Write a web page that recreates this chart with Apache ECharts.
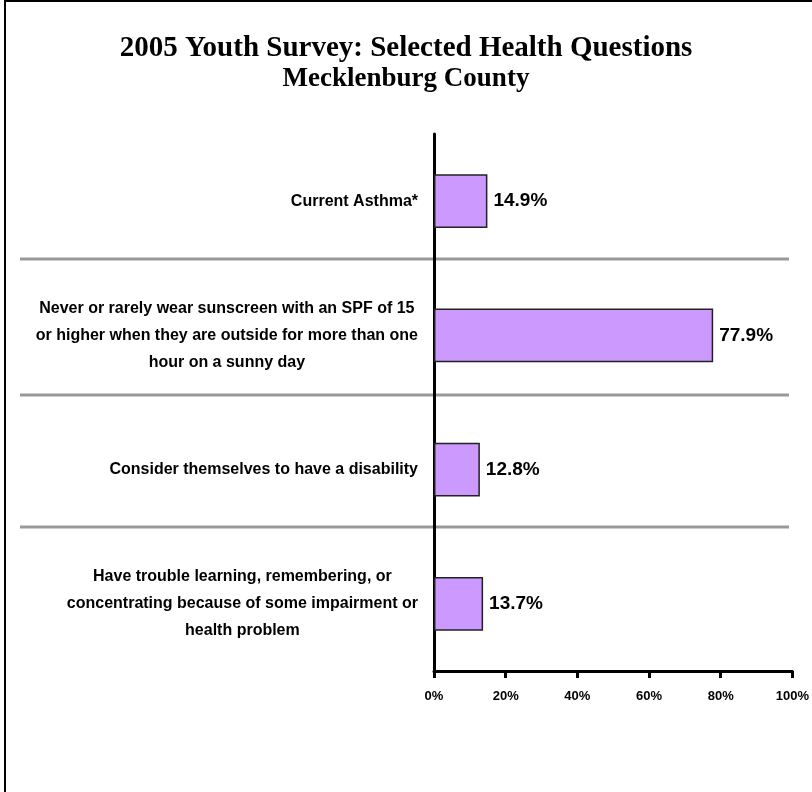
<!DOCTYPE html>
<html>
<head>
<meta charset="utf-8">
<script src="https://cdn.jsdelivr.net/npm/echarts@6/dist/echarts.min.js"></script>
<style>
  html, body { margin: 0; padding: 0; background: #fff; }
  #chart { width: 812px; height: 792px; }
</style>
</head>
<body>
<div id="chart"></div>
<script>
// Survey questions (top to bottom) and the share of youth answering yes
var categories = [
  'Current Asthma*',
  'Never or rarely wear sunscreen with an SPF of 15\nor higher when they are outside for more than one\nhour on a sunny day',
  'Consider themselves to have a disability',
  'Have trouble learning, remembering, or\nconcentrating because of some impairment or\nhealth problem'
];
var percents = [14.9, 77.9, 12.8, 13.7];
var axisTicks = [0, 20, 40, 60, 80, 100];

var titleText = '2005 Youth Survey: Selected Health Questions';
var subtitleText = 'Mecklenburg County';

var sans = '"Liberation Sans", Arial, sans-serif';
var serif = '"Liberation Serif", "Times New Roman", serif';

var chart = echarts.init(document.getElementById('chart'), null, { renderer: 'canvas' });

// horizontal rules separating the questions
function rule(y) {
  return {
    type: 'line',
    shape: { x1: 20, y1: y, x2: 789, y2: y },
    style: { stroke: '#999999', lineWidth: 3 },
    z: 0
  };
}

chart.setOption({
  backgroundColor: '#ffffff',
  animation: false,
  title: [
    {
      text: titleText,
      left: 'center',
      top: 29,
      textStyle: { fontFamily: serif, fontWeight: 'bold', fontSize: 29, color: '#000' }
    },
    {
      text: subtitleText,
      left: 'center',
      top: 61,
      textStyle: { fontFamily: serif, fontWeight: 'bold', fontSize: 27, color: '#000' }
    }
  ],
  graphic: [
    {
      type: 'rect',
      shape: { x: 5, y: 1, width: 900, height: 900 },
      style: { fill: 'none', stroke: '#000', lineWidth: 2 },
      silent: true,
      z: 0
    },
    rule(259),
    rule(395),
    rule(527)
  ],
  grid: { left: 434, right: 19, top: 134, bottom: 121, containLabel: false },
  xAxis: {
    type: 'value',
    min: 0,
    max: 100,
    interval: 20,
    axisLine: { show: true, lineStyle: { color: '#000', width: 3 } },
    axisTick: { show: true, length: 7, lineStyle: { color: '#000', width: 3 } },
    splitLine: { show: false },
    axisLabel: {
      margin: 19,
      formatter: function (v) { return axisTicks.indexOf(v) >= 0 ? v + '%' : ''; },
      fontFamily: sans,
      fontWeight: 'bold',
      fontSize: 13,
      color: '#000'
    }
  },
  yAxis: {
    type: 'category',
    data: categories,
    inverse: true,
    axisLine: { show: true, onZero: false, lineStyle: { color: '#000', width: 3 } },
    axisTick: { show: false },
    splitLine: { show: false },
    axisLabel: {
      margin: 16,
      align: 'right',
      formatter: function (v) {
        return v.split('\n').map(function (l) { return '{c|' + l + '}'; }).join('\n');
      },
      rich: {
        c: {
          align: 'center',
          fontFamily: sans,
          fontWeight: 'bold',
          fontSize: 16,
          lineHeight: 27,
          color: '#000'
        }
      }
    }
  },
  series: [
    {
      type: 'bar',
      data: percents,
      barCategoryGap: '60%',
      itemStyle: { color: '#CC99FF', borderColor: '#222', borderWidth: 1.5 },
      label: {
        show: true,
        position: 'right',
        distance: 6,
        formatter: function (p) { return p.value.toFixed(1) + '%'; },
        fontFamily: sans,
        fontWeight: 'bold',
        fontSize: 19,
        color: '#000'
      },
      z: 3
    }
  ]
});
</script>
</body>
</html>
